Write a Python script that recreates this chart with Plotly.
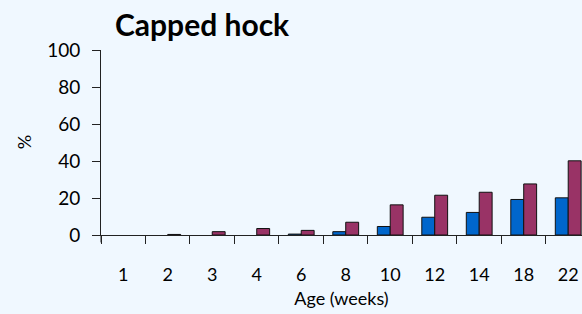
import plotly.graph_objects as go

categories = ["1", "2", "3", "4", "6", "8", "10", "12", "14", "18", "22"]
series_a = [None, None, None, None, 0.5, 1.8, 4.6, 9.6, 12.2, 19.2, 20.1]
series_b = [None, 0.3, 1.8, 3.5, 2.5, 6.9, 16.3, 21.5, 23.1, 27.6, 40.1]
y_ticks = [0, 20, 40, 60, 80, 100]

FONT = "Lato"

fig = go.Figure()
fig.add_trace(go.Bar(x=categories, y=series_a, marker=dict(color="#0066CC", line=dict(color="#111111", width=1)), showlegend=False))
fig.add_trace(go.Bar(x=categories, y=series_b, marker=dict(color="#993366", line=dict(color="#111111", width=1)), showlegend=False))

fig.update_layout(
    width=582, height=314,
    paper_bgcolor="#F0F8FF", plot_bgcolor="#F0F8FF",
    margin=dict(l=101, r=0, t=50, b=79, autoexpand=False),
    barmode="group", bargap=0.42, bargroupgap=0,
    font=dict(family=FONT, color="#000000", size=18),
    title=dict(text="<b>Capped hock</b>", x=115/582, xanchor="left", y=1-25/314, yanchor="middle",
               font=dict(family=FONT, size=30, color="#000000")),
    xaxis=dict(type="category", range=[-0.5, 10.31], showline=True, linecolor="#222222", linewidth=1,
               ticks="outside", tickson="boundaries", ticklen=8, tickcolor="#222222", automargin=False,
               showgrid=False, ticklabelstandoff=23, tickfont=dict(size=18),
               title=dict(text="Age (weeks)", font=dict(size=18), standoff=8)),
    yaxis=dict(range=[0, 100], tickvals=y_ticks, showline=True, linecolor="#222222", linewidth=1,
               ticks="outside", ticklen=8, tickcolor="#222222", showgrid=False, zeroline=False, automargin=False,
               ticklabelstandoff=8, tickfont=dict(size=19)),
    annotations=[dict(text="%", xref="paper", yref="paper", x=-77/481, y=(234.5-142)/184.5,
                      xanchor="center", yanchor="middle", showarrow=False, textangle=-90,
                      font=dict(family=FONT, size=18, color="#000000"))],
)
fig.add_shape(type="line", xref="paper", yref="paper", x0=0, x1=0, y0=0, y1=-0.04,
              line=dict(color="#222222", width=1))

fig.write_html("out.html", config={"displayModeBar": False},
               post_script="document.body.style.margin='0';document.body.style.overflow='hidden';")
